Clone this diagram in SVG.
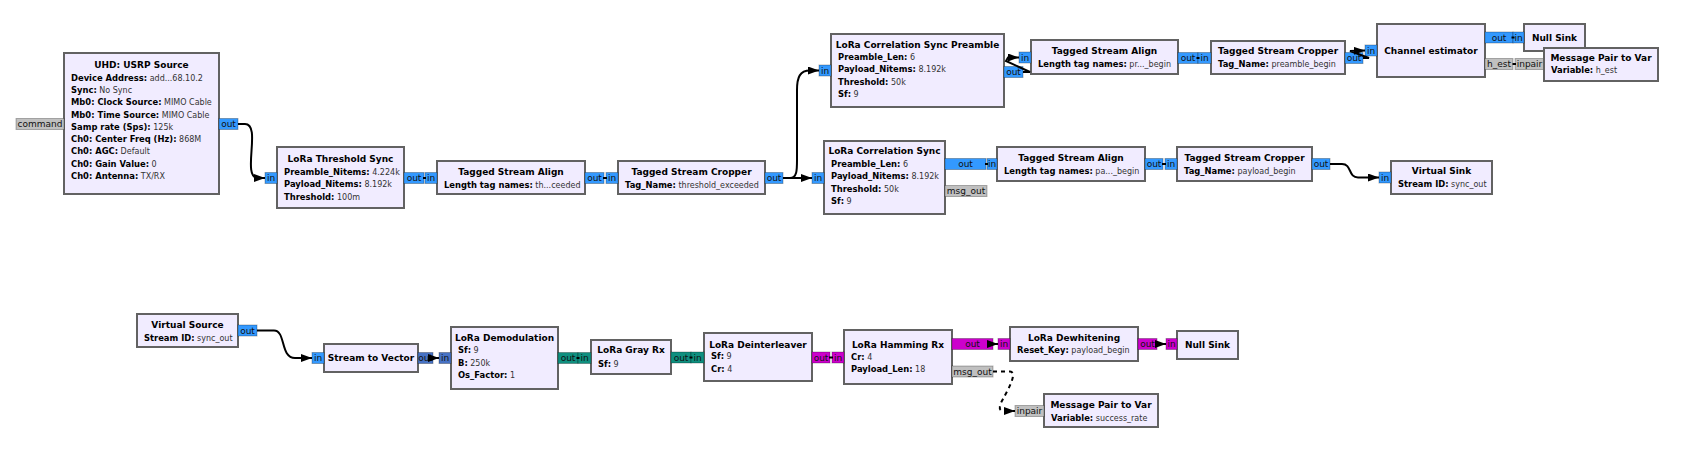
<svg xmlns="http://www.w3.org/2000/svg" width="1682" height="471" viewBox="0 0 1682 471">
<defs>
<style>
.b{fill:#F1ECFF;stroke:#626262;stroke-width:2}
.p{stroke:#000;stroke-opacity:.28;stroke-width:1}
.pc{fill:#3399FF}.pv{fill:#4672C4}.pi{fill:#0F8F7F}.pb{fill:#CC00CC}.pm{fill:#C0C0C0}
.t{font-family:"DejaVu Sans",sans-serif;font-size:9px;font-weight:bold;text-anchor:middle;fill:#000}
.l{font-family:"DejaVu Sans",sans-serif;font-size:8px;fill:#333}
.k{font-weight:bold;font-size:8.4px;fill:#000}
.pl{font-family:"DejaVu Sans",sans-serif;font-size:9px;text-anchor:middle;fill:#111}
.c{fill:none;stroke:#000;stroke-width:2}
.d{fill:none;stroke:#000;stroke-width:2;stroke-dasharray:4 4}
</style>
<marker id="a" markerWidth="11" markerHeight="8" refX="11" refY="4" orient="auto" markerUnits="userSpaceOnUse"><path d="M0,0 L11,4 L0,8 z" fill="#000"/></marker>
</defs>
<rect width="1682" height="471" fill="#fff"/>

<g id="usrp_source">
<rect class="b" x="64" y="53" width="155" height="141"/>
<text class="t" x="141.5" y="68.3">UHD: USRP Source</text>
<text class="l" x="71" y="80.6"><tspan class="k">Device Address:</tspan> add...68.10.2</text>
<text class="l" x="71" y="92.9"><tspan class="k">Sync:</tspan> No Sync</text>
<text class="l" x="71" y="105.2"><tspan class="k">Mb0: Clock Source:</tspan> MIMO Cable</text>
<text class="l" x="71" y="117.5"><tspan class="k">Mb0: Time Source:</tspan> MIMO Cable</text>
<text class="l" x="71" y="129.8"><tspan class="k">Samp rate (Sps):</tspan> 125k</text>
<text class="l" x="71" y="142.1"><tspan class="k">Ch0: Center Freq (Hz):</tspan> 868M</text>
<text class="l" x="71" y="154.4"><tspan class="k">Ch0: AGC:</tspan> Default</text>
<text class="l" x="71" y="166.7"><tspan class="k">Ch0: Gain Value:</tspan> 0</text>
<text class="l" x="71" y="179"><tspan class="k">Ch0: Antenna:</tspan> TX/RX</text>
<rect class="p pm" x="16" y="118.5" width="48" height="11"/><text class="pl" x="40" y="127.2">command</text>
<rect class="p pc" x="219" y="118.5" width="19" height="11"/><text class="pl" x="228.5" y="127.2">out</text>
</g>

<g id="threshold_sync">
<rect class="b" x="277" y="147" width="127" height="61"/>
<text class="t" x="340.5" y="162">LoRa Threshold Sync</text>
<text class="l" x="284" y="174.6"><tspan class="k">Preamble_Nitems:</tspan> 4.224k</text>
<text class="l" x="284" y="187.3"><tspan class="k">Payload_Nitems:</tspan> 8.192k</text>
<text class="l" x="284" y="199.8"><tspan class="k">Threshold:</tspan> 100m</text>
<rect class="p pc" x="265" y="172.5" width="12" height="11"/><text class="pl" x="271" y="181.2">in</text>
<rect class="p pc" x="404" y="172.5" width="20" height="11"/><text class="pl" x="414" y="181.2">out</text>
</g>

<g id="align_1">
<rect class="b" x="437" y="161" width="148" height="33"/>
<text class="t" x="511" y="175.3">Tagged Stream Align</text>
<text class="l" x="444" y="188.3"><tspan class="k">Length tag names:</tspan> th...ceeded</text>
<rect class="p pc" x="425" y="172.5" width="12" height="11"/><text class="pl" x="431" y="181.2">in</text>
<rect class="p pc" x="585" y="172.5" width="19" height="11"/><text class="pl" x="594.5" y="181.2">out</text>
</g>

<g id="cropper_1">
<rect class="b" x="618" y="161" width="147" height="33"/>
<text class="t" x="691.5" y="175.3">Tagged Stream Cropper</text>
<text class="l" x="625" y="188.3"><tspan class="k">Tag_Name:</tspan> threshold_exceeded</text>
<rect class="p pc" x="606" y="172.5" width="12" height="11"/><text class="pl" x="612" y="181.2">in</text>
<rect class="p pc" x="765" y="172.5" width="18" height="11"/><text class="pl" x="774" y="181.2">out</text>
</g>

<g id="corr_sync_preamble">
<rect class="b" x="831" y="34" width="173" height="73"/>
<text class="t" x="917.5" y="48.3">LoRa Correlation Sync Preamble</text>
<text class="l" x="838" y="60"><tspan class="k">Preamble_Len:</tspan> 6</text>
<text class="l" x="838" y="72.3"><tspan class="k">Payload_Nitems:</tspan> 8.192k</text>
<text class="l" x="838" y="85"><tspan class="k">Threshold:</tspan> 50k</text>
<text class="l" x="838" y="97.3"><tspan class="k">Sf:</tspan> 9</text>
<rect class="p pc" x="819" y="65" width="12" height="11"/><text class="pl" x="825" y="73.7">in</text>
<rect class="p pc" x="1004" y="66.5" width="19" height="11"/><text class="pl" x="1013.5" y="75.2">out</text>
</g>

<g id="align_2">
<rect class="b" x="1031" y="40" width="147" height="34"/>
<text class="t" x="1104.5" y="54">Tagged Stream Align</text>
<text class="l" x="1038" y="67.3"><tspan class="k">Length tag names:</tspan> pr..._begin</text>
<rect class="p pc" x="1019" y="52" width="12" height="11"/><text class="pl" x="1025" y="60.7">in</text>
<rect class="p pc" x="1178" y="52.5" width="20" height="11"/><text class="pl" x="1188" y="61.2">out</text>
</g>

<g id="cropper_2">
<rect class="b" x="1211" y="41" width="134" height="33"/>
<text class="t" x="1278" y="54">Tagged Stream Cropper</text>
<text class="l" x="1218" y="67.3"><tspan class="k">Tag_Name:</tspan> preamble_begin</text>
<rect class="p pc" x="1198" y="52.5" width="13" height="11"/><text class="pl" x="1204.5" y="61.2">in</text>
<rect class="p pc" x="1345" y="52.5" width="18" height="11"/><text class="pl" x="1354" y="61.2">out</text>
</g>

<g id="channel_estimator">
<rect class="b" x="1377" y="24" width="108" height="53"/>
<text class="t" x="1431" y="54">Channel estimator</text>
<rect class="p pc" x="1365" y="45" width="12" height="11"/><text class="pl" x="1371" y="53.7">in</text>
<rect class="p pc" x="1485" y="32" width="28" height="11"/><text class="pl" x="1499" y="40.7">out</text>
<rect class="p pm" x="1485" y="58.5" width="28" height="11"/><text class="pl" x="1499" y="67.2">h_est</text>
</g>

<g id="null_sink_1">
<rect class="b" x="1524" y="24" width="61" height="27"/>
<text class="t" x="1554.5" y="40.8">Null Sink</text>
<rect class="p pc" x="1513" y="32" width="11" height="11"/><text class="pl" x="1518.5" y="40.7">in</text>
</g>

<g id="msg_pair_h_est">
<rect class="p pm" x="1515" y="58.5" width="29" height="11"/><text class="pl" x="1529.5" y="67.2">inpair</text>
<rect class="b" x="1544" y="48" width="114" height="33"/>
<text class="t" x="1601" y="61">Message Pair to Var</text>
<text class="l" x="1551" y="73.3"><tspan class="k">Variable:</tspan> h_est</text>
</g>

<g id="corr_sync">
<rect class="b" x="824" y="141" width="121" height="73"/>
<text class="t" x="884.5" y="154">LoRa Correlation Sync</text>
<text class="l" x="831" y="166.6"><tspan class="k">Preamble_Len:</tspan> 6</text>
<text class="l" x="831" y="179"><tspan class="k">Payload_Nitems:</tspan> 8.192k</text>
<text class="l" x="831" y="192"><tspan class="k">Threshold:</tspan> 50k</text>
<text class="l" x="831" y="204"><tspan class="k">Sf:</tspan> 9</text>
<rect class="p pc" x="812" y="172.5" width="12" height="11"/><text class="pl" x="818" y="181.2">in</text>
<rect class="p pc" x="945" y="158.5" width="41" height="11"/><text class="pl" x="965.5" y="167.2">out</text>
<rect class="p pm" x="945" y="185.5" width="42" height="11"/><text class="pl" x="966" y="194.2">msg_out</text>
</g>

<g id="align_3">
<rect class="b" x="997" y="147" width="148" height="34"/>
<text class="t" x="1071" y="160.5">Tagged Stream Align</text>
<text class="l" x="1004" y="173.5"><tspan class="k">Length tag names:</tspan> pa..._begin</text>
<rect class="p pc" x="987" y="158.5" width="10" height="11"/><text class="pl" x="992" y="167.2">in</text>
<rect class="p pc" x="1145" y="158.5" width="18" height="11"/><text class="pl" x="1154" y="167.2">out</text>
</g>

<g id="cropper_3">
<rect class="b" x="1177" y="147" width="135" height="34"/>
<text class="t" x="1244.5" y="160.5">Tagged Stream Cropper</text>
<text class="l" x="1184" y="173.5"><tspan class="k">Tag_Name:</tspan> payload_begin</text>
<rect class="p pc" x="1165" y="158.5" width="12" height="11"/><text class="pl" x="1171" y="167.2">in</text>
<rect class="p pc" x="1312" y="158.5" width="18" height="11"/><text class="pl" x="1321" y="167.2">out</text>
</g>

<g id="virtual_sink">
<rect class="b" x="1391" y="161" width="101" height="33"/>
<text class="t" x="1441.5" y="174">Virtual Sink</text>
<text class="l" x="1398" y="187.3"><tspan class="k">Stream ID:</tspan> sync_out</text>
<rect class="p pc" x="1379" y="172" width="12" height="11"/><text class="pl" x="1385" y="180.7">in</text>
</g>

<g id="virtual_source">
<rect class="b" x="137" y="314" width="101" height="33"/>
<text class="t" x="187.5" y="328.3">Virtual Source</text>
<text class="l" x="144" y="340.6"><tspan class="k">Stream ID:</tspan> sync_out</text>
<rect class="p pc" x="238" y="325" width="19" height="11"/><text class="pl" x="247.5" y="333.7">out</text>
</g>

<g id="stream_to_vector">
<rect class="b" x="324" y="344" width="94" height="28"/>
<text class="t" x="371" y="361.3">Stream to Vector</text>
<rect class="p pc" x="312" y="352.5" width="12" height="11"/><text class="pl" x="318" y="361.2">in</text>
<rect class="p pv" x="418" y="352.5" width="15" height="11"/><text class="pl" x="425.5" y="361.2">out</text>
</g>

<g id="demodulation">
<rect class="b" x="451" y="327" width="107" height="62"/>
<text class="t" x="504.5" y="340.6">LoRa Demodulation</text>
<text class="l" x="458" y="353.3"><tspan class="k">Sf:</tspan> 9</text>
<text class="l" x="458" y="365.6"><tspan class="k">B:</tspan> 250k</text>
<text class="l" x="458" y="377.6"><tspan class="k">Os_Factor:</tspan> 1</text>
<rect class="p pv" x="439" y="352.5" width="12" height="11"/><text class="pl" x="445" y="361.2">in</text>
<rect class="p pi" x="558" y="352.5" width="20" height="11"/><text class="pl" x="568" y="361.2">out</text>
</g>

<g id="gray_rx">
<rect class="b" x="591" y="340" width="80" height="34"/>
<text class="t" x="631" y="353.3">LoRa Gray Rx</text>
<text class="l" x="598" y="366.6"><tspan class="k">Sf:</tspan> 9</text>
<rect class="p pi" x="578" y="352.5" width="13" height="11"/><text class="pl" x="584.5" y="361.2">in</text>
<rect class="p pi" x="671" y="352" width="20" height="11"/><text class="pl" x="681" y="360.7">out</text>
</g>

<g id="deinterleaver">
<rect class="b" x="704" y="333" width="108" height="48"/>
<text class="t" x="758" y="348.3">LoRa Deinterleaver</text>
<text class="l" x="711" y="359.3"><tspan class="k">Sf:</tspan> 9</text>
<text class="l" x="711" y="371.6"><tspan class="k">Cr:</tspan> 4</text>
<rect class="p pi" x="691" y="352" width="13" height="11"/><text class="pl" x="697.5" y="360.7">in</text>
<rect class="p pb" x="812" y="352" width="18" height="11"/><text class="pl" x="821" y="360.7">out</text>
</g>

<g id="hamming_rx">
<rect class="b" x="844" y="330" width="108" height="54"/>
<text class="t" x="898" y="348.3">LoRa Hamming Rx</text>
<text class="l" x="851" y="360"><tspan class="k">Cr:</tspan> 4</text>
<text class="l" x="851" y="371.6"><tspan class="k">Payload_Len:</tspan> 18</text>
<rect class="p pb" x="832" y="352" width="12" height="11"/><text class="pl" x="838" y="360.7">in</text>
<rect class="p pb" x="952" y="338.5" width="41" height="11"/><text class="pl" x="972.5" y="347.2">out</text>
<rect class="p pm" x="952" y="366" width="41" height="11"/><text class="pl" x="972.5" y="374.7">msg_out</text>
</g>

<g id="dewhitening">
<rect class="b" x="1010" y="327" width="128" height="34"/>
<text class="t" x="1074" y="340.6">LoRa Dewhitening</text>
<text class="l" x="1017" y="353.3"><tspan class="k">Reset_Key:</tspan> payload_begin</text>
<rect class="p pb" x="998" y="338.5" width="12" height="11"/><text class="pl" x="1004" y="347.2">in</text>
<rect class="p pb" x="1138" y="338.5" width="19" height="11"/><text class="pl" x="1147.5" y="347.2">out</text>
</g>

<g id="null_sink_2">
<rect class="b" x="1177" y="331" width="61" height="28"/>
<text class="t" x="1207.5" y="348.3">Null Sink</text>
<rect class="p pb" x="1166" y="338.5" width="11" height="11"/><text class="pl" x="1171.5" y="347.2">in</text>
</g>

<g id="msg_pair_success_rate">
<rect class="b" x="1044" y="394" width="114" height="33"/>
<text class="t" x="1101" y="407.6">Message Pair to Var</text>
<text class="l" x="1051" y="420.6"><tspan class="k">Variable:</tspan> success_rate</text>
<rect class="p pm" x="1015" y="405.5" width="29" height="11"/><text class="pl" x="1029.5" y="414.2">inpair</text>
</g>

<g id="connectors">
<path class="c" marker-end="url(#a)" d="M238,124 L245,124 C262,124 241,178 258,178 L265,178"/>
<path class="c" marker-end="url(#a)" d="M783,178 L812,178"/>
<path class="c" marker-end="url(#a)" d="M783,178 L790,178 C797,178 797,170 797,160 L797,90 C797,77 800,70.5 810,70.5 L819,70.5"/>
<path class="c" marker-end="url(#a)" d="M1023,72 L1030,72 L1006,61 L1008,57.5 L1019,57.5"/>
<path class="c" marker-end="url(#a)" d="M1363,58 L1369,58 L1350,51 L1365,50.5"/>
<path class="c" marker-end="url(#a)" d="M1330,164 L1342,164 C1352,164 1348,177.5 1358,177.5 L1379,177.5"/>
<path class="c" marker-end="url(#a)" d="M257,330.5 L274,330.5 C286,330.5 280,358 295,358 L312,358"/>
<path class="c" marker-end="url(#a)" d="M433,358 L439,358"/>
<path class="c" marker-end="url(#a)" d="M993,344 L998,344"/>
<path class="c" marker-end="url(#a)" d="M1157,344 L1166,344"/>
<path class="d" marker-end="url(#a)" d="M993,371.5 L1010,371.5 C1018,372 1008,390 1003,399 C999,406 998,411 1004,411 L1015,411"/>
<path class="c" d="M423,178 L426,178"/>
<path class="c" d="M603,178 L607,178"/>
<path class="c" d="M1196.5,58 L1199.5,58"/>
<path class="c" d="M1511.5,37.5 L1514.5,37.5"/>
<path class="c" d="M1512.5,64 L1516,64"/>
<path class="c" d="M985,164 L988,164"/>
<path class="c" d="M1162,164 L1166,164"/>
<path class="c" d="M576.5,358 L579.5,358"/>
<path class="c" d="M689.5,357.5 L692.5,357.5"/>
<path class="c" d="M829,357.5 L833,357.5"/>
</g>
</svg>
